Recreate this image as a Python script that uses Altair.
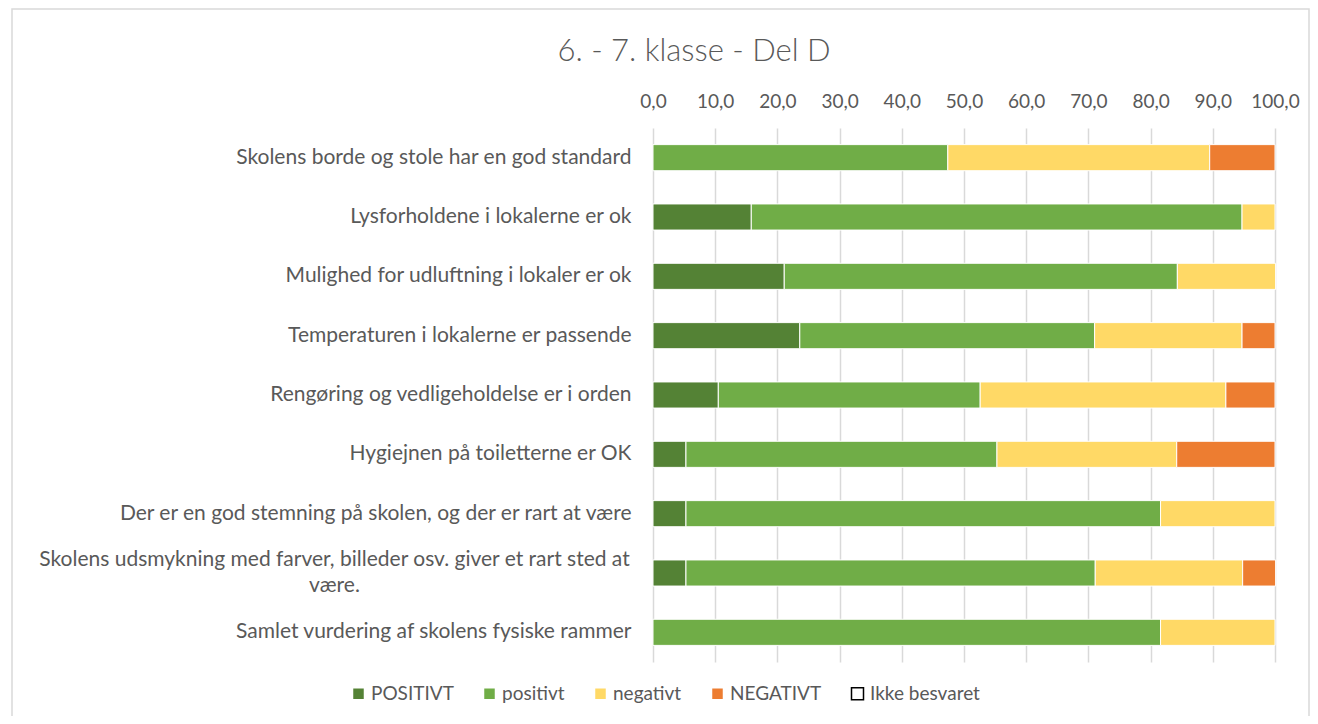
import altair as alt
import pandas as pd

categories = [
    "Skolens borde og stole har en god standard",
    "Lysforholdene i lokalerne er ok",
    "Mulighed for udluftning i lokaler er ok",
    "Temperaturen i lokalerne er passende",
    "Rengøring og vedligeholdelse er i orden",
    "Hygiejnen på toiletterne er OK",
    "Der er en god stemning på skolen, og der er rart at være",
    "Skolens udsmykning med farver, billeder osv. giver et rart sted at være.",
    "Samlet vurdering af skolens fysiske rammer",
]
series = ["POSITIVT", "positivt", "negativt", "NEGATIVT", "Ikke besvaret"]
POSITIVT_big = [0.0, 15.8, 21.1, 23.6, 10.5, 5.3, 5.3, 5.3, 0.0]
positivt = [47.4, 78.9, 63.2, 47.4, 42.1, 50.0, 76.3, 65.8, 81.6]
negativt = [42.1, 5.3, 15.8, 23.7, 39.5, 28.9, 18.4, 23.7, 18.4]
NEGATIVT_big = [10.5, 0.0, 0.0, 5.3, 7.9, 15.8, 0.0, 5.3, 0.0]
ikke_besvaret = [0.0] * 9
tick_values = [0, 10, 20, 30, 40, 50, 60, 70, 80, 90, 100]
colors = ["#548235", "#70AD47", "#FFD966", "#ED7D31", "#FFFFFF"]
strokes = ["#FFFFFF", "#FFFFFF", "#FFFFFF", "#FFFFFF", "#000000"]

rows = []
for i, c in enumerate(categories):
    for j, (s, vals) in enumerate(zip(series, [POSITIVT_big, positivt, negativt, NEGATIVT_big, ikke_besvaret])):
        if vals[i] > 0:
            rows.append({"Kategori": c, "Svar": s, "Procent": vals[i], "ord": j})
df = pd.DataFrame(rows)

FONT = "Lato"
TXT = "#595959"
long_label = categories[7]
is_long = "datum.value == '" + long_label + "'"

label_expr = (
    is_long + " ? "
    "['Skolens udsmykning med farver, billeder osv. giver et rart sted at', 'være.'] : datum.label"
)

legend_spec = alt.Legend(
    title=None,
    orient="none",
    direction="horizontal",
    legendX=-304,
    legendY=556,
    symbolType="square",
    symbolSize=144,
    symbolStrokeWidth=1.5,
    labelFont=FONT,
    labelFontSize=19,
    labelColor=TXT,
    labelOffset=3,
    columnPadding=26,
)

bars = alt.Chart(df).mark_bar(strokeWidth=1).encode(
    y=alt.Y(
        "Kategori:N",
        sort=categories,
        scale=alt.Scale(domain=categories, paddingInner=0.56, paddingOuter=0.28),
        axis=alt.Axis(
            title=None,
            domain=False,
            ticks=False,
            labelExpr=label_expr,
            labelFont=FONT,
            labelFontSize=21,
            labelColor=TXT,
            labelLimit=900,
            labelLineHeight=26,
            labelAlign={"condition": {"test": is_long, "value": "center"}, "value": "right"},
            labelPadding={"condition": {"test": is_long, "value": 319}, "value": 22},
            labelOffset={"condition": {"test": is_long, "value": -13}, "value": 0},
        ),
    ),
    x=alt.X(
        "Procent:Q",
        stack="zero",
        scale=alt.Scale(domain=[0, 100], nice=False),
        axis=alt.Axis(
            orient="top",
            title=None,
            values=tick_values,
            labelExpr="replace(format(datum.value, '.1f'), '.', ',')",
            labelOverlap=False,
            labelFlush=False,
            domain=False,
            ticks=False,
            grid=True,
            gridColor="#D9D9D9",
            gridWidth=1.5,
            labelFont=FONT,
            labelFontSize=19,
            labelColor=TXT,
            labelPadding=17,
        ),
    ),
    color=alt.Color("Svar:N", scale=alt.Scale(domain=series, range=colors), legend=legend_spec),
    stroke=alt.Stroke("Svar:N", scale=alt.Scale(domain=series, range=strokes), legend=legend_spec),
    order=alt.Order("ord:Q"),
)

border = alt.Chart(pd.DataFrame({"k": [0]})).mark_rect(
    fill=None, stroke="#D9D9D9", strokeWidth=1.5
).encode(
    x=alt.value(-641), x2=alt.value(656), y=alt.value(-119), y2=alt.value(620)
)

chart = alt.layer(border, bars).properties(
    width=622,
    height=534,
    title=alt.TitleParams(
        "6. - 7. klasse - Del D",
        font=FONT,
        fontSize=31,
        fontWeight=300,
        color=TXT,
        anchor="middle",
        dx=-270,
        offset=-60,
    ),
    autosize=alt.AutoSizeParams(type="none"),
    padding={"left": 645, "top": 120, "right": 35, "bottom": 54},
).configure_view(stroke=None)

chart.save("out.html", embed_options={"renderer": "svg", "actions": False})
